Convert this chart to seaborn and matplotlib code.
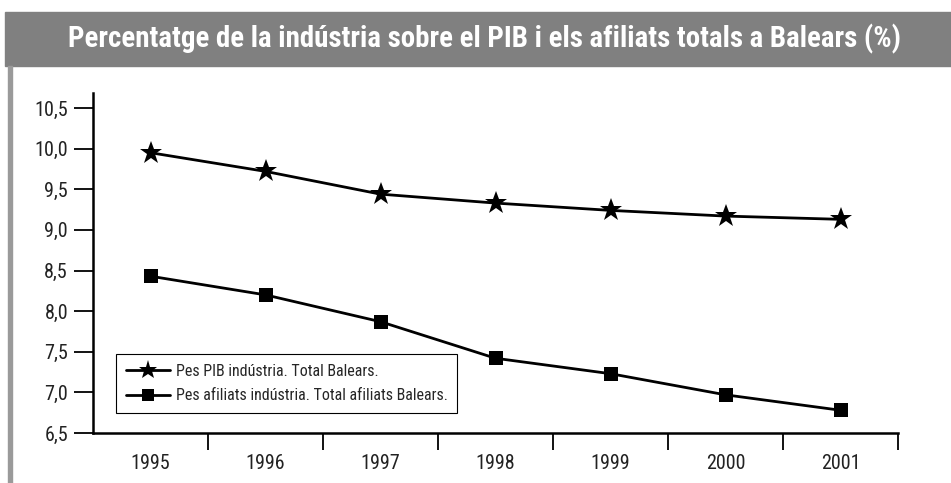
import numpy as np
import pandas as pd
import seaborn as sns
import matplotlib.pyplot as plt
from matplotlib.patches import Rectangle
from matplotlib.lines import Line2D
from matplotlib import font_manager

# Data
years = [1995, 1996, 1997, 1998, 1999, 2000, 2001]
pes_pib = [9.95, 9.72, 9.44, 9.33, 9.24, 9.17, 9.13]
pes_afiliats = [8.43, 8.20, 7.87, 7.42, 7.23, 6.97, 6.78]
labels = ['Pes PIB indústria. Total Balears.',
          'Pes afiliats indústria. Total afiliats Balears.']
y_ticks = [6.5, 7.0, 7.5, 8.0, 8.5, 9.0, 9.5, 10.0, 10.5]
title = 'Percentatge de la indústria sobre el PIB i els afiliats totals a Balears (%)'

sns.set_style('white')

# look for a narrow face, otherwise Liberation Sans
fonts = font_manager.fontManager.ttflist
names = {f.name for f in fonts}
narrow = None
stretch = 'normal'
for cand in ['Liberation Sans Narrow', 'Roboto Condensed', 'Open Sans Condensed',
             'Noto Sans Condensed', 'DejaVu Sans Condensed']:
    if cand in names:
        narrow = cand
        break
if narrow is None:
    for f in fonts:
        if f.name in ('Roboto', 'Noto Sans', 'Open Sans', 'DejaVu Sans') and f.stretch in ('condensed', 'semi-condensed', 500, 400, 300) and f.stretch not in ('normal', 500):
            narrow, stretch = f.name, f.stretch
            break
if narrow is None:
    narrow = 'Liberation Sans'
plt.rcParams['font.family'] = [narrow, 'DejaVu Sans']
plt.rcParams['font.stretch'] = stretch

df = pd.DataFrame({
    'year': years * 2,
    'value': pes_pib + pes_afiliats,
    'serie': [labels[0]] * len(years) + [labels[1]] * len(years),
})

fig = plt.figure(figsize=(9.51, 4.83), dpi=100)

# title band and left border
fig.patches.append(Rectangle((5 / 951, 1 - 66 / 483), 946 / 951, 54 / 483,
                             transform=fig.transFigure, color='#808080', zorder=0))
fig.patches.append(Rectangle((8 / 951, 0), 4 / 951, 1 - 66 / 483,
                             transform=fig.transFigure, color='#9a9a9a', zorder=0))
t = fig.text(484 / 951, 1 - 39 / 483, title, ha='center', va='center', color='white',
             fontsize=21, fontweight='bold')
fig.canvas.draw()
w = t.get_window_extent().width
if w > 830:
    t.set_fontsize(21 * 830 / w)

ax = fig.add_axes([93 / 951, 1 - 433 / 483, (898 - 93) / 951, (433 - 93) / 483])
sns.lineplot(data=df, x='year', y='value', hue='serie', style='serie',
             markers={labels[0]: '*', labels[1]: 's'}, dashes=False,
             palette=['black', 'black'], linewidth=2, markersize=15,
             markeredgewidth=0, ax=ax, legend=False)
for line, ms in zip(ax.lines, [17, 10]):
    line.set_markersize(ms)

ax.set_xlim(1994.5, 2001.5)
ax.set_ylim(6.5, 10.685)
ax.set_xticks(years)
ax.set_xticklabels([str(y) for y in years], fontsize=14.5)
ax.set_xticks([y + 0.5 for y in years], minor=True)
ax.tick_params(axis='x', which='major', length=0, pad=15)
ax.tick_params(axis='x', which='minor', length=12, width=1.3, color='black', direction='out', bottom=True)
ax.set_yticks(y_ticks)
ax.set_yticklabels([f'{v:.1f}'.replace('.', ',') for v in y_ticks], fontsize=14.5)
ax.tick_params(axis='y', length=14, width=1.3, color='black', direction='out', left=True, pad=4)
for lab in ax.get_xticklabels() + ax.get_yticklabels():
    lab.set_color('#222222')
ax.set_xlabel('')
ax.set_ylabel('')
for s in ['top', 'right']:
    ax.spines[s].set_visible(False)
for s in ['left', 'bottom']:
    ax.spines[s].set_color('black')
    ax.spines[s].set_linewidth(1.8)

handles = [Line2D([], [], color='black', lw=2, marker='*', markersize=14, markeredgewidth=0),
           Line2D([], [], color='black', lw=2, marker='s', markersize=9, markeredgewidth=0)]
leg = ax.legend(handles, labels, loc='lower left', bbox_to_anchor=(0.0286, 0.059),
                borderaxespad=0, fontsize=11.5, frameon=True, fancybox=False, framealpha=1,
                edgecolor='black', handlelength=2.8, borderpad=0.6, labelspacing=0.6,
                handletextpad=0.35)
leg.get_frame().set_linewidth(0.8)

fig.savefig('out.png', dpi=100)
